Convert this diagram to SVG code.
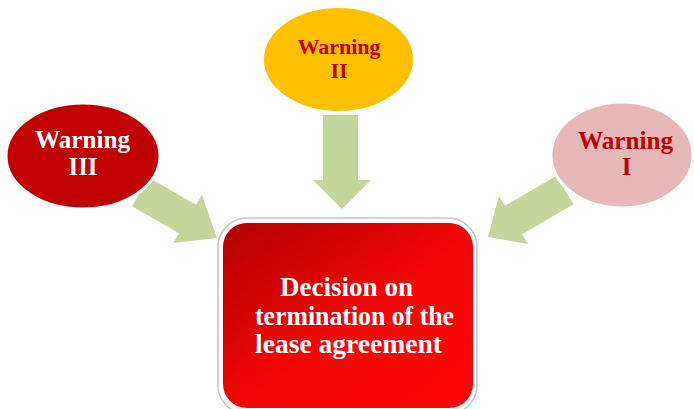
<svg xmlns="http://www.w3.org/2000/svg" width="694" height="409" viewBox="0 0 694 409">
<defs>
<linearGradient id="redGrad" x1="0" y1="0" x2="1" y2="1">
<stop offset="0" stop-color="#b00000"/>
<stop offset="0.55" stop-color="#f50606"/>
<stop offset="1" stop-color="#ff0606"/>
</linearGradient>
<style>
.arrow{fill:#c3d69b;}
.lbl{font-family:"Liberation Serif","Times New Roman",serif;font-weight:bold;text-anchor:middle;}
.ell{stroke:#ffffff;stroke-width:3;}
</style>
</defs>
<rect width="694" height="409" fill="#ffffff"/>
<g id="connectors">
<polygon class="arrow" points="149,177.8 196,204.8 201.9,195 217,238 173.1,243 179,233.2 132,206.2"/>
<polygon class="arrow" points="323,115 358,115 358,180 371,180 342,209 313,180 323,180"/>
<polygon class="arrow" points="556.4,175.8 504.9,205.8 498.9,196.1 488,237 528.1,243.9 522.1,234.2 573.6,204.2"/>
</g>
<g id="decision">
<rect x="218" y="218" width="259" height="196" rx="29" fill="#ffffff" stroke="#c4c4c4" stroke-width="1.5"/>
<rect x="223" y="223" width="250" height="185" rx="24" fill="url(#redGrad)"/>
<text class="lbl" fill="#ffffff" font-size="27" x="346.5" y="296" textLength="133" lengthAdjust="spacingAndGlyphs">Decision on</text>
<text class="lbl" fill="#ffffff" font-size="27" x="354.5" y="325" textLength="199" lengthAdjust="spacingAndGlyphs">termination of the</text>
<text class="lbl" fill="#ffffff" font-size="27" x="348.5" y="353" textLength="187" lengthAdjust="spacingAndGlyphs">lease agreement</text>
</g>
<g id="warning3">
<ellipse class="ell" cx="83" cy="156" rx="77" ry="53" fill="#c00000"/>
<text class="lbl" fill="#ffffff" font-size="25" x="82.5" y="148" textLength="95" lengthAdjust="spacingAndGlyphs">Warning</text>
<text class="lbl" fill="#ffffff" font-size="25" x="83" y="175">III</text>
</g>
<g id="warning2">
<ellipse class="ell" cx="338.5" cy="59.5" rx="76" ry="53" fill="#ffc000"/>
<text class="lbl" fill="#c00000" font-size="22" x="339" y="54">Warning</text>
<text class="lbl" fill="#c00000" font-size="22" x="339" y="78">II</text>
</g>
<g id="warning1">
<ellipse class="ell" cx="622" cy="155" rx="71" ry="53" fill="#e6b9b8"/>
<text class="lbl" fill="#c00000" font-size="25" x="625.5" y="149" textLength="95" lengthAdjust="spacingAndGlyphs">Warning</text>
<text class="lbl" fill="#c00000" font-size="25" x="626.5" y="175">I</text>
</g>
</svg>
